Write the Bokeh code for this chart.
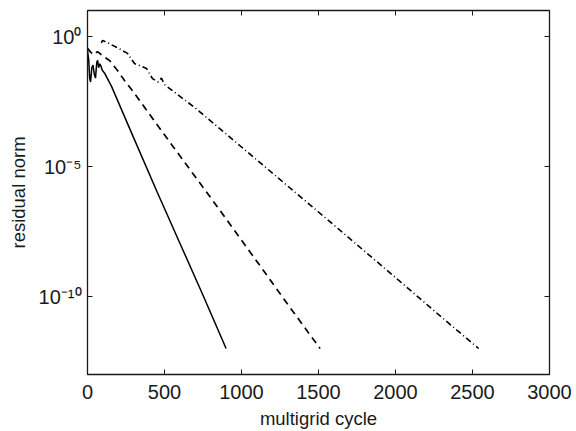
from bokeh.plotting import figure
from bokeh.models import (LogAxis, LinearAxis, FixedTicker, CustomJSTickFormatter, Range1d)
from bokeh.embed import file_html
from bokeh.resources import INLINE

# Data (log10 of residual norm vs multigrid cycle)
solid_x = [0, 8, 14, 20, 28, 36, 44, 52, 60, 66, 72, 80, 88, 96, 110, 156, 300, 450, 600, 750, 900]
solid_log = [-0.55, -0.9, -1.6, -1.75, -1.2, -1.1, -1.45, -1.6, -1.0, -0.92, -1.2, -1.05, -1.15, -1.3, -1.4,
             -1.92, -3.9, -5.95, -7.95, -9.95, -12.0]

dashed_x = [0, 20, 40, 65, 100, 143, 195, 240, 300, 539, 800, 1100, 1300, 1510]
dashed_log = [-0.45, -0.6, -0.7, -0.58, -0.75, -0.92, -1.31, -1.69, -2.15, -4.1, -6.2, -8.65, -10.3, -12.0]

dashdot_x = [90, 98, 150, 200, 260, 305, 383, 422, 460, 480, 500, 700, 1000, 1500, 2000, 2300, 2450, 2540]
dashdot_log = [-0.25, -0.15, -0.3, -0.45, -0.65, -1.04, -1.23, -1.62, -1.75, -1.6, -1.85, -2.75, -4.25,
               -6.75, -9.27, -10.8, -11.55, -12.0]

x_ticks = [0, 500, 1000, 1500, 2000, 2500, 3000]
y_tick_exponents = [-10, -5, 0]
y_ticks = [10.0 ** e for e in y_tick_exponents]

INK = "#1a1a1a"
FONT = "Liberation Sans"

p = figure(width=576, height=431, y_axis_type="log", output_backend="svg", toolbar_location=None,
           x_range=Range1d(0, 3000), y_range=Range1d(1e-13, 1e1),
           min_border_left=87, min_border_right=27, min_border_top=10, min_border_bottom=57)
p.grid.visible = False
p.outline_line_color = INK
p.outline_line_width = 1.3
p.background_fill_color = "white"
p.border_fill_color = "white"

def tolin(v):
    return [10 ** a for a in v]

p.line(solid_x, tolin(solid_log), line_color="black", line_width=1.5)
p.line(dashed_x, tolin(dashed_log), line_color="black", line_width=1.7, line_dash="7 5")
p.line(dashdot_x, tolin(dashdot_log), line_color="black", line_width=1.6, line_dash="6 3 1 3")

sup_fmt = CustomJSTickFormatter(code="""
const sup = {'0':'\u2070','1':'\u00b9','2':'\u00b2','3':'\u00b3','4':'\u2074','5':'\u2075',
             '6':'\u2076','7':'\u2077','8':'\u2078','9':'\u2079','-':'\u207b'};
const e = String(Math.round(Math.log10(tick)));
let s = '';
for (const c of e) s += sup[c];
return '10' + s;
""")

xa = p.xaxis[0]
ya = p.yaxis[0]
xa.ticker = FixedTicker(ticks=x_ticks)
ya.ticker = FixedTicker(ticks=y_ticks)
ya.formatter = sup_fmt
for ax in (xa, ya):
    ax.major_tick_in = 5
    ax.major_tick_out = 0
    ax.minor_tick_line_color = None
    ax.axis_line_color = INK
    ax.major_tick_line_color = INK
    ax.major_label_text_font = FONT
    ax.major_label_text_font_size = "20px"
    ax.major_label_text_color = INK
    ax.axis_label_text_font = FONT
    ax.axis_label_text_font_size = "18.5px"
    ax.axis_label_text_font_style = "normal"
    ax.axis_label_text_color = INK
xa.axis_label = "multigrid cycle"
ya.axis_label = "residual norm"
xa.major_label_standoff = 10
ya.major_label_standoff = 6
xa.axis_label_standoff = 6
ya.axis_label_standoff = 7

empty = CustomJSTickFormatter(code="return '';")
top = LinearAxis(ticker=FixedTicker(ticks=x_ticks), formatter=empty, major_tick_in=5, major_tick_out=0,
                 minor_tick_line_color=None, axis_line_color=None, major_tick_line_color=INK,
                 major_label_standoff=0)
right = LogAxis(ticker=FixedTicker(ticks=y_ticks), formatter=empty, major_tick_in=5, major_tick_out=0,
                minor_tick_line_color=None, axis_line_color=None, major_tick_line_color=INK,
                major_label_standoff=0)
p.add_layout(top, "above")
p.add_layout(right, "right")

open("out.html", "w").write(file_html(p, INLINE))
